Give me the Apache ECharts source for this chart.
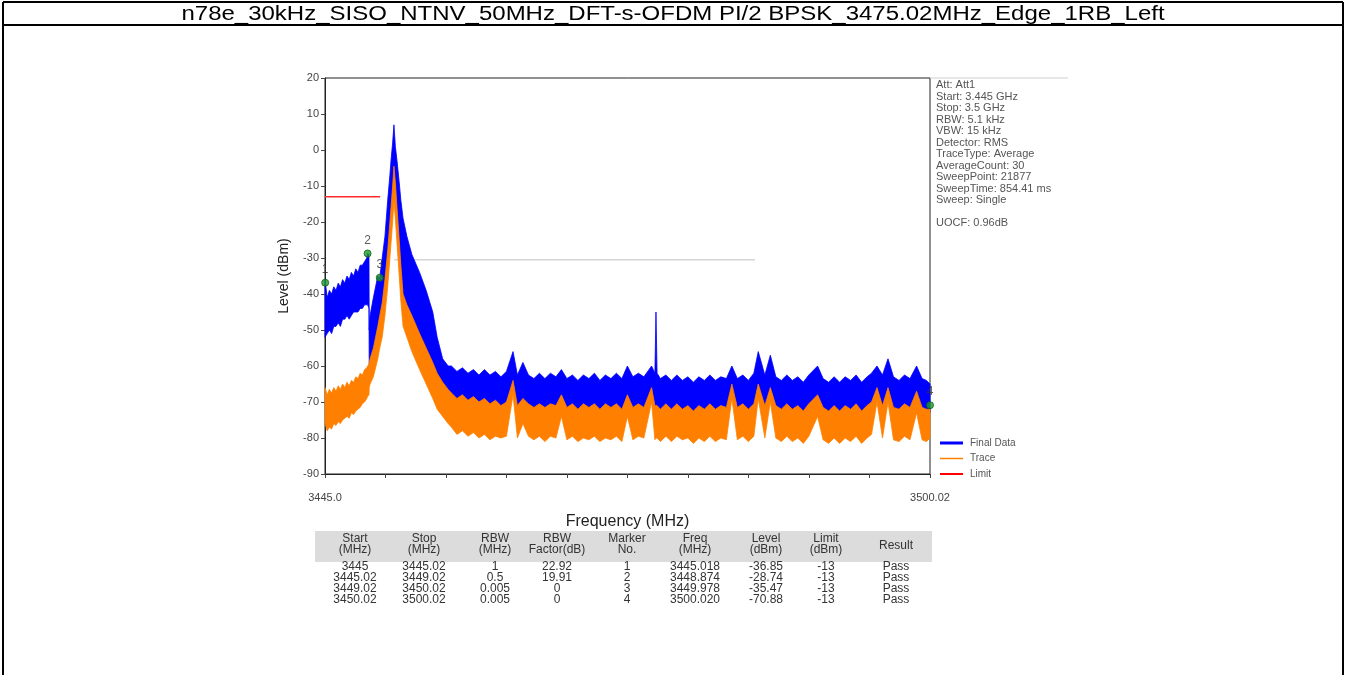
<!DOCTYPE html>
<html><head><meta charset="utf-8">
<script src="https://cdn.jsdelivr.net/npm/echarts@6/dist/echarts.min.js"></script>
<style>html,body{margin:0;padding:0;background:#fff;}#c{width:1346px;height:675px;}</style>
</head><body><div id="c"></div>
<script>
const titleText = 'n78e_30kHz_SISO_NTNV_50MHz_DFT-s-OFDM PI/2 BPSK_3475.02MHz_Edge_1RB_Left';

// Frequency points (MHz): left RBW-factored region, carrier, noise floor
const freqA = [3445.0,3445.2,3445.4,3445.6,3445.8,3446.0,3446.2,3446.4,3446.6,3446.8,3447.0,3447.2,3447.4,3447.6,3447.8,3448.0,3448.2,3448.4,3448.6,3448.8,3448.874,3449.0];
const freqS = [3449.02,3449.1,3449.4,3449.8,3449.978,3450.2,3450.45,3450.7,3450.9,3451.0,3451.15,3451.27,3451.4,3451.55,3451.75,3451.9,3452.1,3452.45,3452.9,3453.6,3454.2,3454.8,3455.2,3455.7,3456.2];
const freqF = [3456.5,3457,3457.5,3458,3458.5,3459,3459.5,3460,3460.5,3461,
  3461.5,3462.1,3462.5,3463.0,3463.5,3464,3464.5,3465,3465.5,3466,
  3466.5,3467,3467.5,3468,3468.5,3469,3469.5,3470,3470.5,3471,
  3471.5,3472,3472.5,3473,3473.5,3474,3474.7,3475.0,3475.1,3475.2,
  3475.5,3476,3476.5,3477,3477.5,3478,3478.5,3479,3479.5,3480,
  3480.5,3481,3481.5,3482.0,3482.5,3483,3483.5,3484,3484.4,3485,
  3485.5,3486,3486.5,3487,3487.5,3488,3488.5,3489,3489.8,3490.3,
  3490.8,3491.3,3491.8,3492.3,3492.8,3493.3,3493.8,3494.3,3494.7,3495.2,
  3495.7,3496.2,3496.7,3497.2,3497.7,3498.2,3498.8,3499.3,3499.7,3500.02];

// Final Data (blue) upper / lower envelope (dBm)
const finalHiA = [-36,-41,-39,-40,-38,-39,-37,-38,-36,-37,-35,-36,-34,-35,-33,-34,-32,-32,-31,-30,-28.7,-29];
const finalLoA = [-52,-51,-50,-51,-49,-49,-48,-49,-47,-47,-46,-47,-46,-45,-45,-45,-44,-44,-43,-43,-43,-44];
const finalHiS = [-50,-46,-41,-35,-35.5,-30,-24,-14,-7,-3,2,7,1,-3,-9,-14,-19,-24,-29,-34,-39,-45,-52,-58,-60];
const finalLoS = [-60,-59,-56,-50,-47,-43.5,-37,-29,-21,-17,-11,-8,-10,-17,-26,-33,-41,-44,-47,-52,-56,-60,-63,-65.5,-67.5];
const finalHiF = [-60,-61.5,-60.5,-62,-61,-62.5,-61,-62.5,-61.5,-63,
  -61.5,-56,-62.5,-59,-62.5,-63.5,-62,-63.5,-62,-63,
  -61,-63.5,-62.5,-64,-62.5,-63.5,-62,-64,-62.5,-63.5,
  -62,-63.5,-60,-63,-62,-63,-60,-62,-45,-62,
  -63.5,-62.5,-64,-62.5,-64,-63,-64.5,-63,-64,-62.5,
  -64,-63,-63.5,-60,-63.5,-62.5,-64,-62,-56,-62.5,
  -57,-63,-64,-62.5,-64,-63,-64.5,-62.5,-60,-63.5,
  -64.5,-63,-64.5,-63,-64,-62.5,-64.5,-63,-62,-60,
  -62.5,-58,-63,-64,-62.5,-63.5,-60,-63.5,-64,-65];
const finalLoF = [-68.5,-70,-69,-70.5,-69.5,-71,-70,-71.5,-70.5,-72,
  -71,-66,-72,-70,-71.5,-72.5,-71.5,-72.5,-71.5,-72,
  -69,-72.5,-71.5,-73,-71.5,-72.5,-71.5,-73,-71.5,-72.5,
  -71.5,-73,-69,-72.5,-71.5,-72.5,-67.5,-72,-72,-72,
  -73,-71.5,-73,-71.5,-73,-72,-73.5,-72,-73,-71.5,
  -73,-72,-72.5,-67,-72.5,-71.5,-73,-71.5,-67,-72,
  -68,-72,-73,-71.5,-73,-72,-73.5,-71.5,-69,-72.5,
  -73.5,-72,-73.5,-72,-73,-71.5,-73.5,-72,-71,-68,
  -72,-68,-72.5,-73,-71.5,-72.5,-68,-72.5,-73,-73];

// Trace (orange) upper / lower envelope (dBm)
const traceHiA = [-66,-68,-66.5,-67.5,-66,-67,-65.5,-66.5,-65,-66,-64.5,-65.5,-64,-64.5,-63,-63.5,-62,-62.5,-61,-60.5,-60,-59.5];
const traceLoA = [-76,-78,-77,-77.5,-76,-76.5,-75.5,-76,-75,-74.5,-74,-74.5,-73,-73.5,-72.5,-72,-71.5,-70.5,-70,-69,-68.5,-68];
const traceHiS = [-59,-58,-55,-49,-46,-42.5,-36,-28,-20,-16,-10,-4.5,-9,-16,-25,-32,-40,-43,-46,-51,-55,-59,-62,-64.5,-66.5];
const traceLoS = [-66,-65,-63,-58,-55,-52,-46,-38,-30,-26,-20,-14,-19,-26,-35,-42,-49,-52,-56,-61,-65,-69,-72,-74,-76];
const traceHiF = [-67.5,-69,-68,-69.5,-68.5,-70,-69,-70.5,-69.5,-71,
  -70,-64,-71,-69,-70.5,-71.5,-70.5,-71.5,-70.5,-71,
  -68,-71.5,-70.5,-72,-70.5,-71.5,-70.5,-72,-70.5,-71.5,
  -70.5,-72,-68,-71.5,-70.5,-71.5,-66,-71,-71,-71,
  -72,-70.5,-72,-70.5,-72,-71,-72.5,-71,-72,-70.5,
  -72,-71,-71.5,-65,-71.5,-70.5,-72,-70.5,-65,-71,
  -66,-71,-72,-70.5,-72,-71,-72.5,-70.5,-68,-71.5,
  -72.5,-71,-72.5,-71,-72,-70.5,-72.5,-71,-70,-66,
  -71,-66,-71.5,-72,-70.5,-71.5,-67,-71.5,-72,-72];
const traceLoF = [-77,-79,-78,-79.5,-78.5,-80,-79,-80.5,-79.5,-80,
  -79.5,-68,-80,-76,-79.5,-80.5,-79.5,-81,-79.5,-80,
  -74,-80.5,-79.5,-81,-80,-80.5,-79.5,-81,-80,-80.5,
  -79.5,-81,-74,-80.5,-79.5,-80,-70,-80.5,-80,-80,
  -81,-79.5,-81,-79.5,-80.5,-80,-81.5,-80,-81,-79.5,
  -81,-80,-80.5,-69,-80.5,-79.5,-81,-79.5,-69,-80,
  -70,-80,-81,-79.5,-81,-80,-81.5,-79.5,-74,-80.5,
  -81.5,-80,-81.5,-80,-81,-79.5,-81.5,-80,-79,-70,
  -80,-70,-80.5,-81,-79.5,-80.5,-73,-80.5,-81,-80];

// Limit line and faint -30 reference line
const limitFreq = [3445, 3450.02];
const limitLevel = [-13, -13];
const refFreq = [3451.3, 3484.1];
const refLevel = [-30.5, -30.5];

// Markers
const markerNo = ['1', '2', '3', '4'];
const markerFreq = [3445.018, 3448.874, 3449.978, 3500.020];
const markerLevel = [-36.85, -28.74, -35.47, -70.88];

// Axis tick labels
const xTickLabels = ['3445.0', '', '', '', '', '', '', '', '', '', '3500.02'];

// Instrument settings
const infoLines = ['Att: Att1', 'Start: 3.445 GHz', 'Stop: 3.5 GHz', 'RBW: 5.1 kHz', 'VBW: 15 kHz',
  'Detector: RMS', 'TraceType: Average', 'AverageCount: 30', 'SweepPoint: 21877',
  'SweepTime: 854.41 ms', 'Sweep: Single', '', 'UOCF: 0.96dB'];

const legendNames = ['Final Data', 'Trace', 'Limit'];

// Table
const tableHeader = [['Start', '(MHz)'], ['Stop', '(MHz)'], ['RBW', '(MHz)'], ['RBW', 'Factor(dB)'],
  ['Marker', 'No.'], ['Freq', '(MHz)'], ['Level', '(dBm)'], ['Limit', '(dBm)'], ['Result']];
const colStart = ['3445', '3445.02', '3449.02', '3450.02'];
const colStop = ['3445.02', '3449.02', '3450.02', '3500.02'];
const colRBW = ['1', '0.5', '0.005', '0.005'];
const colFactor = ['22.92', '19.91', '0', '0'];
const colMarker = ['1', '2', '3', '4'];
const colFreq = ['3445.018', '3448.874', '3449.978', '3500.020'];
const colLevel = ['-36.85', '-28.74', '-35.47', '-70.88'];
const colLimit = ['-13', '-13', '-13', '-13'];
const colResult = ['Pass', 'Pass', 'Pass', 'Pass'];

// ---------- build ----------
const freqMHz = freqA.concat(freqS, freqF);
const finalHi = finalHiA.concat(finalHiS, finalHiF);
const finalLo = finalLoA.concat(finalLoS, finalLoF);
const traceHi = traceHiA.concat(traceHiS, traceHiF);
const traceLo = traceLoA.concat(traceLoS, traceLoF);

const FONT = "'Liberation Sans', Arial, sans-serif";
const NARROW = "'Liberation Sans Narrow', 'Arial Narrow', 'Liberation Sans', Arial, sans-serif";

function band(name, hi, lo, color, z) {
  return {
    type: 'custom', name: name, z: z, silent: true, animation: false,
    data: [[freqMHz[0], hi[0]]], encode: { x: 0, y: 1 },
    renderItem: function (params, api) {
      const pts = [];
      for (let i = 0; i < freqMHz.length; i++) pts.push(api.coord([freqMHz[i], hi[i]]));
      for (let i = freqMHz.length - 1; i >= 0; i--) pts.push(api.coord([freqMHz[i], lo[i]]));
      return { type: 'polygon', shape: { points: pts }, style: { fill: color, stroke: color, lineWidth: 0.8 } };
    }
  };
}

const G = { left: 325, top: 78, width: 605, height: 396 };
const graphics = [];
// outer frame
graphics.push({ type: 'line', shape: { x1: 3, y1: 2, x2: 3, y2: 675 }, style: { stroke: '#000', lineWidth: 2 } });
graphics.push({ type: 'line', shape: { x1: 1343, y1: 2, x2: 1343, y2: 675 }, style: { stroke: '#000', lineWidth: 2 } });
graphics.push({ type: 'line', shape: { x1: 3, y1: 2, x2: 1343, y2: 2 }, style: { stroke: '#000', lineWidth: 2 } });
graphics.push({ type: 'line', shape: { x1: 3, y1: 25, x2: 1343, y2: 25 }, style: { stroke: '#000', lineWidth: 2 } });
graphics.push({ type: 'text', x: 673, y: 14, scaleX: 1.2, style: { text: titleText, font: '20px ' + FONT, fill: '#000', align: 'center', verticalAlign: 'middle' } });
// faint extension of the top frame
graphics.push({ type: 'line', shape: { x1: 930, y1: 78, x2: 1068, y2: 78 }, style: { stroke: '#cfcfcf', lineWidth: 1 } });
// settings panel
infoLines.forEach(function (t, i) {
  graphics.push({ type: 'text', x: 936, y: 85 + i * 11.5, style: { text: t, font: '11px ' + FONT, fill: '#555', align: 'left', verticalAlign: 'middle' } });
});
// legend
const legendColors = ['#0000ff', '#ff8000', '#ff0000'];
const legendWidths = [3, 1.5, 2];
legendNames.forEach(function (t, i) {
  const y = 443 + i * 15.5;
  graphics.push({ type: 'line', shape: { x1: 940, y1: y, x2: 963, y2: y }, style: { stroke: legendColors[i], lineWidth: legendWidths[i] } });
  graphics.push({ type: 'text', x: 970, y: y, style: { text: t, font: '10px ' + FONT, fill: '#555', align: 'left', verticalAlign: 'middle' } });
});
// table
const colX = [355, 424, 495, 557, 627, 695, 766, 826, 896];
graphics.push({ type: 'rect', shape: { x: 315, y: 531, width: 617, height: 31 }, style: { fill: '#dcdcdc' } });
tableHeader.forEach(function (h, c) {
  if (h.length === 1) {
    graphics.push({ type: 'text', x: colX[c], y: 546, style: { text: h[0], font: '12px ' + NARROW, fill: '#333', align: 'center', verticalAlign: 'middle' } });
  } else {
    h.forEach(function (t, k) {
      graphics.push({ type: 'text', x: colX[c], y: 539 + k * 11, style: { text: t, font: '12px ' + NARROW, fill: '#333', align: 'center', verticalAlign: 'middle' } });
    });
  }
});
const cols = [colStart, colStop, colRBW, colFactor, colMarker, colFreq, colLevel, colLimit, colResult];
cols.forEach(function (col, c) {
  col.forEach(function (t, r) {
    graphics.push({ type: 'text', x: colX[c], y: 567 + r * 11, style: { text: t, font: '12px ' + NARROW, fill: '#333', align: 'center', verticalAlign: 'middle' } });
  });
});

const chart = echarts.init(document.getElementById('c'), null, { renderer: 'canvas' });
chart.setOption({
  animation: false,
  backgroundColor: '#fff',
  grid: { left: G.left, top: G.top, width: G.width, height: G.height, show: true, borderColor: '#222', borderWidth: 1 },
  xAxis: [{
    type: 'value', min: 3445, max: 3500.02, position: 'bottom',
    axisLine: { show: true, onZero: false, lineStyle: { color: '#222', width: 1 } },
    axisTick: { show: false }, axisLabel: { show: false }, splitLine: { show: false },
    name: 'Frequency (MHz)', nameLocation: 'middle', nameGap: 40,
    nameTextStyle: { fontSize: 16, color: '#222', fontFamily: FONT }
  }, {
    type: 'value', min: 0, max: 10, interval: 1, position: 'bottom',
    axisLine: { show: false, onZero: false },
    axisTick: { show: true, length: 4, lineStyle: { color: '#444' } },
    axisLabel: { show: true, fontSize: 11, color: '#444', fontFamily: FONT, margin: 18, showMinLabel: true, showMaxLabel: true,
      formatter: function (v) { return xTickLabels[Math.round(v)] || ''; } },
    splitLine: { show: false }
  }],
  yAxis: {
    type: 'value', min: -90, max: 20, interval: 10,
    axisLine: { show: true, onZero: false, lineStyle: { color: '#222', width: 1 } },
    axisTick: { show: true, length: 4, lineStyle: { color: '#444' } },
    axisLabel: { fontSize: 11, color: '#444', fontFamily: FONT, margin: 6 },
    splitLine: { show: false },
    name: 'Level (dBm)', nameLocation: 'middle', nameGap: 34, nameRotate: 90,
    nameTextStyle: { fontSize: 14, color: '#222', fontFamily: FONT }
  },
  series: [
    { type: 'line', name: 'ref', z: 1, silent: true, symbol: 'none', data: refFreq.map(function (f, i) { return [f, refLevel[i]]; }),
      lineStyle: { color: '#d4d4d4', width: 1.5 } },
    band('Final Data', finalHi, finalLo, '#0000ff', 2),
    band('Trace', traceHi, traceLo, '#ff8000', 3),
    { type: 'line', name: 'Limit', z: 4, silent: true, symbol: 'none', data: limitFreq.map(function (f, i) { return [f, limitLevel[i]]; }),
      lineStyle: { color: '#ff2a2a', width: 1.5 } },
    { type: 'scatter', name: 'Markers', z: 5, silent: true, symbol: 'circle', symbolSize: 7,
      data: markerFreq.map(function (f, i) { return [f, markerLevel[i], markerNo[i]]; }),
      itemStyle: { color: '#1f9a2a', borderColor: '#0d5f14', borderWidth: 1 },
      label: { show: true, position: 'top', distance: 3, formatter: function (p) { return p.data[2]; }, fontSize: 12, color: '#333', fontFamily: FONT } }
  ],
  graphic: graphics
});
</script>
</body></html>
